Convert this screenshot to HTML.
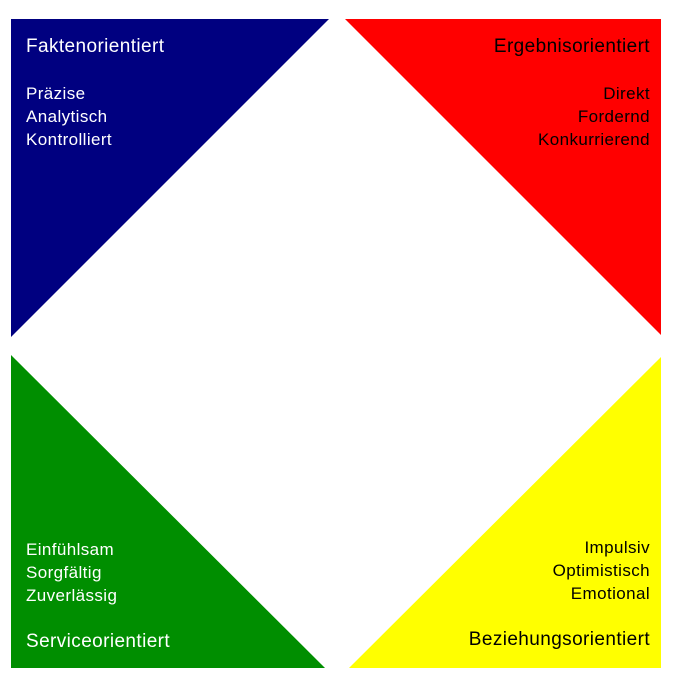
<!DOCTYPE html>
<html><head><meta charset="utf-8"><style>
body{margin:0;background:#fff;}
svg text{font-family:"Liberation Sans",sans-serif;font-size:17px;letter-spacing:0.4px;}
svg text.h{font-size:19px;letter-spacing:0.4px;}
</style></head><body>
<svg width="680" height="692" xmlns="http://www.w3.org/2000/svg">
<polygon points="11,19 329,19 11,337" fill="#000080"/>
<polygon points="345,19 661,19 661,335" fill="#ff0000"/>
<polygon points="11,355 11,668 325,668" fill="#008e00"/>
<polygon points="661,357 661,668 349,668" fill="#ffff00"/>
<g fill="#fff">
<text class="h" x="26" y="52">Faktenorientiert</text>
<text x="26" y="99">Präzise</text>
<text x="26" y="122">Analytisch</text>
<text x="26" y="145">Kontrolliert</text>
<text x="26" y="555">Einfühlsam</text>
<text x="26" y="578">Sorgfältig</text>
<text x="26" y="601">Zuverlässig</text>
<text class="h" x="26" y="647">Serviceorientiert</text>
</g>
<g fill="#000" text-anchor="end">
<text class="h" x="650" y="52">Ergebnisorientiert</text>
<text x="650" y="99">Direkt</text>
<text x="650" y="122">Fordernd</text>
<text x="650" y="145">Konkurrierend</text>
<text x="650" y="553">Impulsiv</text>
<text x="650" y="576">Optimistisch</text>
<text x="650" y="599">Emotional</text>
<text class="h" x="650" y="645">Beziehungsorientiert</text>
</g>
</svg>
</body></html>
